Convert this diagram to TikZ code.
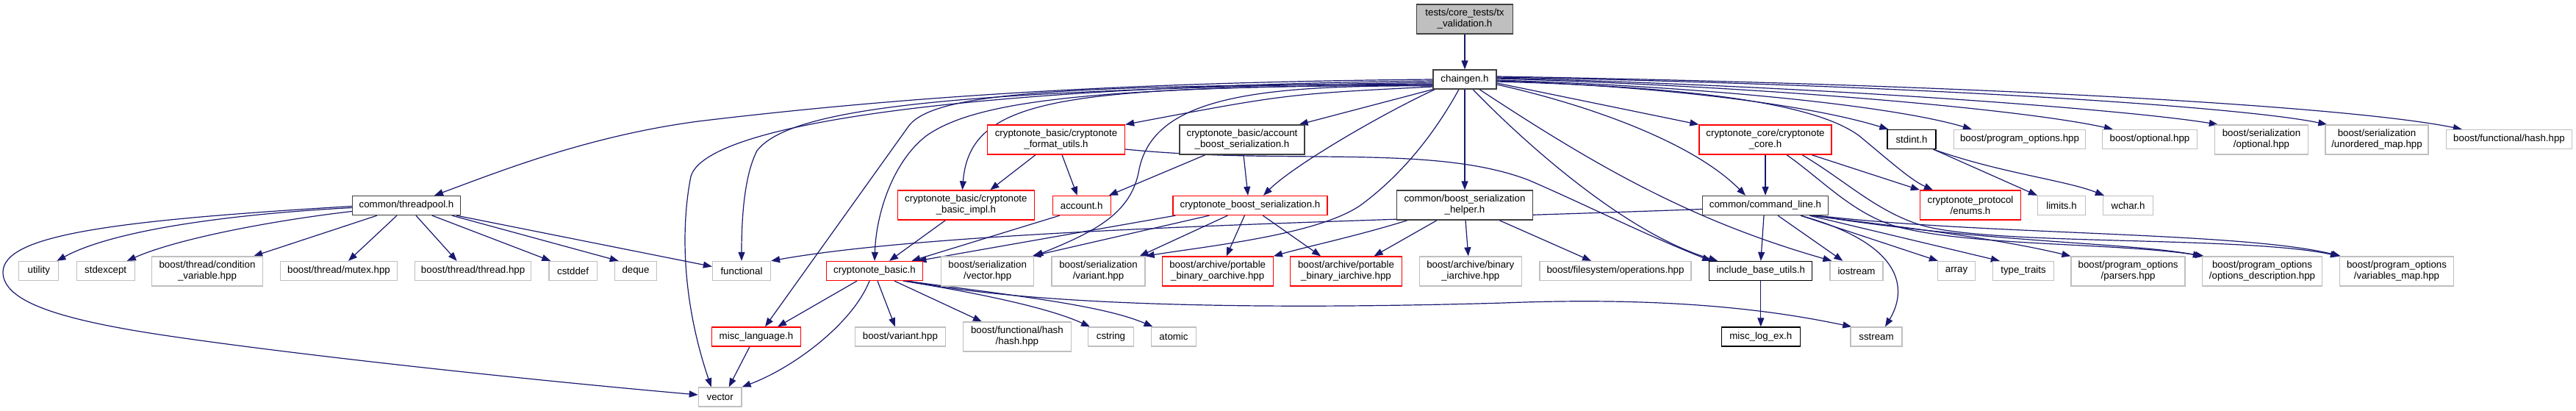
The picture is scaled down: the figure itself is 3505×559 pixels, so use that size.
\documentclass[tikz,border=0pt]{standalone}
\usepackage{fontspec}
\newfontfamily\dfont{Liberation Sans}
\usetikzlibrary{arrows.meta,calc}
\pgfdeclarelayer{bg}
\pgfsetlayers{bg,main}
\definecolor{edgec}{HTML}{191970}
\definecolor{gyc}{HTML}{BFBFBF}
\definecolor{dkc}{HTML}{404040}
\definecolor{rdc}{HTML}{FF0000}
\tikzset{
 nd/.style={rectangle, draw, inner sep=0pt, align=center, fill=white, line width=1.3pt, font=\dfont\fontsize{13.3}{15}\selectfont},
 rd/.style={nd, draw=rdc},
 dk/.style={nd, draw=dkc},
 gy/.style={nd, draw=gyc},
 sz/.style 2 args={minimum width=#1, minimum height=#2},
 edg/.style={draw=edgec, line width=1.2pt, -{Triangle[length=12pt,width=9pt]}},
}
\begin{document}
\begin{tikzpicture}[x=1pt,y=-1pt]
\useasboundingbox (0,0) rectangle (3505,559);
% row 1-2
\node[dk, fill=gyc, sz={131}{40}] (T) at (1993,26) {tests/core\_tests/tx\\\_validation.h};
\node[dk, sz={86}{26}] (CG) at (1993,108) {chaingen.h};
% row 3
\node[rd, sz={187}{40}] (FU) at (1437,190) {cryptonote\_basic/cryptonote\\\_format\_utils.h};
\node[dk, sz={170}{40}] (ABS) at (1690,190) {cryptonote\_basic/account\\\_boost\_serialization.h};
\node[rd, sz={180}{40}] (CC) at (2402,190) {cryptonote\_core/cryptonote\\\_core.h};
\node[nd, draw=black, sz={66}{26}] (SI) at (2601,189.5) {stdint.h};
\node[gy, sz={179}{26}] (BPO) at (2748,189.5) {boost/program\_options.hpp};
\node[gy, sz={129}{26}] (BO) at (2925,189.5) {boost/optional.hpp};
\node[gy, sz={127}{40}] (BSO) at (3077,190) {boost/serialization\\/optional.hpp};
\node[gy, sz={140}{40}] (BSUM) at (3234,190) {boost/serialization\\/unordered\_map.hpp};
\node[gy, sz={171}{26}] (BFH) at (3414,189.5) {boost/functional/hash.hpp};
% row 4
\node[dk, sz={147}{26}] (TP) at (553,279.5) {common/threadpool.h};
\node[rd, sz={186}{40}] (BI) at (1314.4,279) {cryptonote\_basic/cryptonote\\\_basic\_impl.h};
\node[rd, sz={79}{26}] (ACC) at (1471.7,279.5) {account.h};
\node[rd, sz={210}{26}] (CBS) at (1701,279.5) {cryptonote\_boost\_serialization.h};
\node[dk, sz={184.5}{40}] (CBSH) at (1993,279) {common/boost\_serialization\\\_helper.h};
\node[dk, sz={171}{26}] (CL) at (2402,279.5) {common/command\_line.h};
\node[rd, sz={137}{40}] (EN) at (2681,279) {cryptonote\_protocol\\/enums.h};
\node[gy, sz={65}{26}] (LIM) at (2805,279.5) {limits.h};
\node[gy, sz={68}{26}] (WC) at (2895.6,279.5) {wchar.h};
% row 5
\node[gy, sz={54}{26}] (UT) at (52.8,368.5) {utility};
\node[gy, sz={79}{26}] (SE) at (143.7,368.5) {stdexcept};
\node[gy, sz={151}{40}] (CV) at (282,369) {boost/thread/condition\\\_variable.hpp};
\node[gy, sz={159}{26}] (MU) at (461,368.5) {boost/thread/mutex.hpp};
\node[gy, sz={158}{26}] (TH) at (643.6,368.5) {boost/thread/thread.hpp};
\node[gy, sz={65.4}{26}] (CD) at (779.6,368.5) {cstddef};
\node[gy, sz={57.4}{26}] (DQ) at (865,368.5) {deque};
\node[gy, sz={79}{26}] (FN) at (1009,368.5) {functional};
\node[rd, sz={131.5}{26}] (CB) at (1190,368.5) {cryptonote\_basic.h};
\node[gy, sz={126}{40}] (BSV) at (1343.7,369) {boost/serialization\\/vector.hpp};
\node[gy, sz={127}{40}] (BSVar) at (1494.5,369) {boost/serialization\\/variant.hpp};
\node[rd, sz={151}{40}] (PBO) at (1656.7,369) {boost/archive/portable\\\_binary\_oarchive.hpp};
\node[rd, sz={151.5}{40}] (PBI) at (1831.5,369) {boost/archive/portable\\\_binary\_iarchive.hpp};
\node[gy, sz={139}{40}] (BIA) at (2000.8,369) {boost/archive/binary\\\_iarchive.hpp};
\node[gy, sz={206}{26}] (FSO) at (2198,368.5) {boost/filesystem/operations.hpp};
\node[nd, draw=black, sz={140}{26}] (IBU) at (2395.8,368.5) {include\_base\_utils.h};
\node[gy, sz={72}{26}] (IOS) at (2526,368.5) {iostream};
\node[gy, sz={51}{26}] (ARR) at (2662,368.5) {array};
\node[gy, sz={83}{26}] (TT) at (2753,368.5) {type\_traits};
\node[gy, sz={155}{40}] (POP) at (2895.6,369) {boost/program\_options\\/parsers.hpp};
\node[gy, sz={163}{40}] (POD) at (3078,369) {boost/program\_options\\/options\_description.hpp};
\node[gy, sz={155}{40}] (POV) at (3261,369) {boost/program\_options\\/variables\_map.hpp};
% row 6-7
\node[rd, sz={120.6}{26}] (ML) at (1029,458) {misc\_language.h};
\node[gy, sz={123}{26}] (BV) at (1224.9,458) {boost/variant.hpp};
\node[gy, sz={147}{40}] (BFHH) at (1383.9,458) {boost/functional/hash\\/hash.hpp};
\node[gy, sz={61.6}{26}] (CS) at (1511.5,458) {cstring};
\node[gy, sz={61.6}{26}] (AT) at (1597,458) {atomic};
\node[nd, draw=black, sz={107}{26}] (MLE) at (2395.8,458) {misc\_log\_ex.h};
\node[gy, sz={70}{26}] (SS) at (2553,458) {sstream};
\node[gy, sz={58.6}{26}] (VEC) at (979.7,540) {vector};

\begin{pgfonlayer}{bg}
\fill[white] (0,0) rectangle (3505,559);
\draw[edg] (T.south) -- (CG.north);
% chaingen left
\draw[edg] (CG.west) .. controls (1500,112) and (1200,135) .. (950,165) .. controls (800,185) and (680,233) .. ($(TP.north)+(38,0)$);
\draw[edg] ($(CG.west)+(0,2)$) .. controls (1300,118) and (960,170) .. (940,240) .. controls (928,300) and (925,400) .. ($(VEC.north)+(-12,0)$);
\draw[edg] ($(CG.west)+(0,4)$) .. controls (1350,122) and (1080,140) .. (1030,205) .. controls (1012,240) and (1009,300) .. (FN.north);
\draw[edg] ($(CG.west)+(0,6)$) .. controls (1450,116) and (1270,125) .. (1236,172) -- ($(ML.north)+(12,0)$);
\draw[edg] ($(CG.west)+(0,7)$) .. controls (1500,118) and (1330,135) .. (1260,185) .. controls (1215,220) and (1192,290) .. (CB.north);
\draw[edg] ($(CG.west)+(0,8)$) .. controls (1450,118) and (1320,130) .. ($(BI.north)+(-5,0)$);
\draw[edg] ($(CG.west)+(0,10)$) .. controls (1750,128) .. (FU.north east);
\draw[edg] (CG.south west) -- ($(ABS.north east)+(-8,0)$);
\draw[edg] ($(CG.west)+(0,9)$) .. controls (1700,115) and (1570,135) .. (1550,230) .. controls (1540,290) and (1490,315) .. (BSV.north east);
\draw[edg] ($(CG.south west)+(3,0)$) .. controls (1880,155) and (1760,225) .. ($(CBS.north)+(18,0)$);
\draw[edg] ($(CG.south)+(-8,0)$) .. controls (1950,185) and (1905,240) .. (1850,280) .. controls (1790,320) and (1640,335) .. (BSVar.north east);
\draw[edg] (CG.south) -- (CBSH.north);
% chaingen right
\draw[edg] ($(CG.south)+(11,0)$) .. controls (2090,210) and (2220,320) .. ($(IBU.north west)+(12,0)$);
\draw[edg] ($(CG.south)+(20,0)$) .. controls (2170,225) and (2300,300) .. ($(IOS.north west)+(3,0)$);
\draw[edg] ($(CG.east)+(0,7)$) .. controls (2150,140) and (2300,190) .. ($(CL.north)+(-27,0)$);
\draw[edg] ($(CG.east)+(0,5)$) -- (CC.north west);
\draw[edg] ($(CG.east)+(0,3)$) .. controls (2300,118) and (2470,140) .. (2530,185) .. controls (2570,218) and (2600,245) .. ($(EN.north)+(-51,0)$);
\draw[edg] ($(CG.east)+(0,2)$) .. controls (2280,118) and (2470,145) .. ($(SI.north west)+(2,0)$);
\draw[edg] ($(CG.east)+(0,1)$) .. controls (2330,118) and (2580,145) .. ($(BPO.north west)+(25,0)$);
\draw[edg] ($(CG.east)+(0,-1)$) .. controls (2420,118) and (2760,150) .. ($(BO.north west)+(15,0)$);
\draw[edg] ($(CG.east)+(0,-2)$) .. controls (2500,118) and (2900,150) .. ($(BSO.north west)+(5,0)$);
\draw[edg] ($(CG.east)+(0,-3)$) .. controls (2600,115) and (3050,145) .. ($(BSUM.north west)+(3,0)$);
\draw[edg] ($(CG.east)+(0,-4)$) .. controls (2700,115) and (3200,145) .. ($(BFH.north west)+(22,0)$);
% format utils, account serialization
\draw[edg] ($(FU.east)+(0,13)$) .. controls (1750,225) and (1950,195) .. (2080,245) .. controls (2150,275) and (2240,320) .. ($(IBU.north west)+(3,0)$);
\draw[edg] ($(FU.south)+(-28,0)$) -- ($(BI.north)+(33,0)$);
\draw[edg] ($(FU.south)+(8,0)$) -- ($(ACC.north)+(-6,0)$);
\draw[edg] ($(ABS.south)+(-50,0)$) -- ($(ACC.north east)+(-3,0)$);
\draw[edg] ($(ABS.south)+(2,0)$) -- ($(CBS.north)+(-3,0)$);
% cryptonote_core
\draw[edg] (CC.south) -- (CL.north);
\draw[edg] ($(CC.south)+(63,0)$) -- (EN.north west);
\draw[edg] ($(CC.south)+(29,0)$) .. controls (2480,245) and (2520,290) .. (2580,308) .. controls (2680,335) and (2880,330) .. ($(POD.north west)+(3,0)$);
\draw[edg] ($(CC.south)+(50,0)$) .. controls (2510,245) and (2550,285) .. (2610,305) .. controls (2700,335) and (3050,320) .. (POV.north west);
% stdint
\draw[edg] ($(SI.south east)+(-4,0)$) -- (LIM.north west);
\draw[edg] ($(SI.south east)+(-4,0)$) .. controls (2720,235) and (2810,245) .. ($(WC.north west)+(2,0)$);
% command_line
\draw[edg] ($(CL.south)+(-2,0)$) -- (IBU.north);
\draw[edg] ($(CL.south)+(17,0)$) -- ($(IOS.north west)+(18,0)$);
\draw[edg] ($(CL.south)+(48,0)$) .. controls (2600,335) and (2592,400) .. ($(SS.north)+(12,0)$);
\draw[edg] ($(CL.south)+(48,0)$) -- ($(ARR.north west)+(1,0)$);
\draw[edg] ($(CL.south)+(60,0)$) -- ($(TT.north west)+(10,0)$);
\draw[edg] ($(CL.south)+(62,0)$) .. controls (2600,310) and (2720,325) .. (POP.north west);
\draw[edg] ($(CL.south)+(66,0)$) .. controls (2700,330) and (2900,330) .. (POD.north west);
\draw[edg] ($(CL.south)+(70,0)$) .. controls (2700,320) and (3050,315) .. ($(POV.north west)+(2,0)$);
\draw[edg] ($(CL.west)+(0,5)$) .. controls (1900,300) and (1300,310) .. (FN.north east);
% threadpool
\draw[edg] ($(TP.west)+(0,3)$) .. controls (300,292) and (150,315) .. ($(UT.north east)+(-3,0)$);
\draw[edg] ($(TP.west)+(0,8)$) .. controls (370,300) and (240,325) .. ($(SE.north east)+(-11,0)$);
\draw[edg] ($(TP.south)+(-40,0)$) -- ($(CV.north east)+(-13,0)$);
\draw[edg] ($(TP.south)+(-13,0)$) -- ($(MU.north)+(13,0)$);
\draw[edg] ($(TP.south)+(13,0)$) -- ($(TH.north)+(-22,0)$);
\draw[edg] ($(TP.south)+(35,0)$) -- ($(CD.north west)+(3,0)$);
\draw[edg] ($(TP.south)+(62,0)$) -- ($(DQ.north west)+(6,0)$);
\draw[edg] ($(TP.south east)+(-6,0)$) -- ($(FN.west)+(0,-6)$);
\draw[edg] ($(TP.west)+(0,1)$) .. controls (150,300) and (5,320) .. (4,370) .. controls (4,410) and (80,435) .. (230,457) .. controls (400,482) and (700,515) .. ($(VEC.west)+(0,-3)$);
% boost serialization
\draw[edg] ($(CBS.south west)+(4,0)$) -- ($(CB.north east)+(-8,0)$);
\draw[edg] ($(CBS.south west)+(50,0)$) -- ($(BSV.north east)+(-3,0)$);
\draw[edg] ($(CBS.south west)+(75,0)$) -- ($(BSVar.north east)+(-8,0)$);
\draw[edg] ($(CBS.south west)+(98,0)$) -- ($(PBO.north)+(12,0)$);
\draw[edg] ($(CBS.south west)+(123,0)$) -- ($(PBI.north west)+(42,0)$);
\draw[edg] ($(CBSH.south west)+(15,0)$) .. controls (1850,320) and (1780,335) .. (PBO.north east);
\draw[edg] ($(CBSH.south west)+(55,0)$) -- ($(PBI.north)+(38,0)$);
\draw[edg] ($(CBSH.south)+(1,0)$) -- ($(BIA.north)+(-3,0)$);
\draw[edg] ($(CBSH.south)+(47,0)$) -- ($(FSO.north)+(-33,0)$);
\draw[edg] ($(BI.south)+(-28,0)$) -- ($(CB.north)+(20,0)$);
\draw[edg] ($(ACC.south)+(-30,0)$) -- ($(CB.north east)+(-16,0)$);
% cryptonote_basic
\draw[edg] ($(CB.south)+(-24,0)$) -- ($(ML.north)+(29,0)$);
\draw[edg] ($(CB.south)+(-7,0)$) .. controls (1160,440) and (1080,500) .. (VEC.north east);
\draw[edg] ($(CB.south)+(4,0)$) -- ($(BV.north)+(-7,0)$);
\draw[edg] ($(CB.south)+(27,0)$) -- ($(BFHH.north)+(-48,0)$);
\draw[edg] ($(CB.south)+(39,0)$) .. controls (1340,400) and (1430,420) .. ($(CS.north west)+(3,0)$);
\draw[edg] ($(CB.south)+(43,0)$) .. controls (1380,402) and (1500,415) .. ($(AT.north west)+(3,0)$);
\draw[edg] ($(CB.south)+(46,0)$) .. controls (1400,415) and (1700,422) .. (2046,412) .. controls (2300,402) and (2440,428) .. ($(SS.north west)+(2,0)$);
\draw[edg] ($(ML.south)+(-9,0)$) -- ($(VEC.north)+(12,0)$);
\draw[edg] (IBU.south) -- (MLE.north);
\end{pgfonlayer}
\end{tikzpicture}
\end{document}
